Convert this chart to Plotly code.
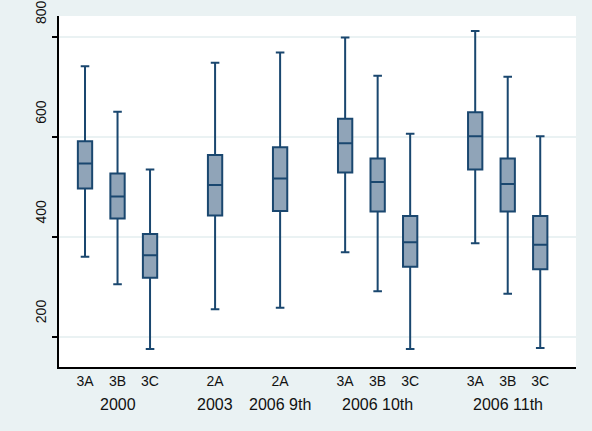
import plotly.graph_objects as go

# box labels and their group (year / grade)
box_labels = ['3A', '3B', '3C', '2A', '2A', '3A', '3B', '3C', '3A', '3B', '3C']
groups = ['2000', '2003', '2006 9th', '2006 10th', '2006 11th']

# summary stats
upper = [742, 651, 535, 749, 770, 800, 723, 607, 813, 721, 602]
q3 = [592, 527, 406, 564, 580, 637, 557, 442, 650, 557, 442]
median = [547, 481, 363, 504, 517, 588, 510, 389, 602, 506, 384]
q1 = [497, 437, 318, 443, 452, 529, 451, 340, 535, 451, 335]
lower = [360, 305, 175, 255, 258, 369, 291, 175, 387, 286, 177]

# slot layout on the x axis (gaps between groups)
slots = [0, 1, 2, 4, 6, 8, 9, 10, 12, 13, 14]
group_slots = [1, 4, 6, 9, 13]

navy = '#1a476f'
bg = '#eaf2f3'

fig = go.Figure()
fig.add_trace(go.Box(
    x=slots,
    q1=q1, median=median, q3=q3,
    lowerfence=lower, upperfence=upper,
    width=0.44,
    whiskerwidth=0.6,
    boxpoints=False,
    fillcolor='#90a4b8',
    line=dict(color=navy, width=2),
    showlegend=False,
))

for g, s in zip(groups, group_slots):
    fig.add_annotation(x=s, y=0, xref='x', yref='paper', text=g,
                       showarrow=False, yanchor='middle', yshift=-37,
                       font=dict(size=16, color='#111111'))

fig.update_layout(
    width=592, height=431,
    margin=dict(l=59, r=16, t=16, b=64),
    paper_bgcolor=bg,
    plot_bgcolor='white',
    font=dict(family='Liberation Sans, Arial, sans-serif', size=12, color='#111111'),
    xaxis=dict(
        range=[-0.8, 15.1],
        tickvals=slots, ticktext=box_labels,
        showgrid=False, zeroline=False,
        showline=True, linecolor='black', linewidth=2,
        ticks='', tickfont=dict(size=14),
        automargin=False,
    ),
    yaxis=dict(
        range=[139, 843],
        tickvals=[200, 400, 600, 800],
        tickangle=-90,
        ticklabelshift=-23,
        ticklabeloverflow='allow',
        ticks='outside', ticklen=5, tickwidth=1.5, tickcolor='black',
        showgrid=True, gridcolor=bg, gridwidth=1.5,
        zeroline=False,
        showline=True, linecolor='black', linewidth=2,
        tickfont=dict(size=14),
        automargin=False,
    ),
)

fig.write_html('out.html',
               config={'displayModeBar': False},
               post_script="document.body.style.margin='0';"
                           "document.body.style.background='%s';" % bg)
